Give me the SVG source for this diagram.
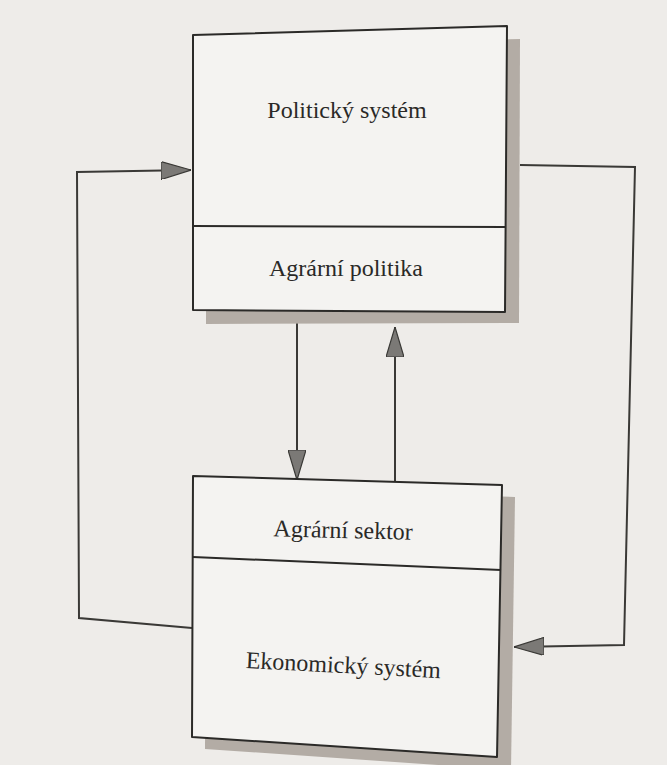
<svg xmlns="http://www.w3.org/2000/svg" width="667" height="765" viewBox="0 0 667 765">
  <defs>
    <style>
      .bg { fill: #eeece9; }
      .box { fill: #f4f3f1; stroke: #2b2a28; stroke-width: 2; stroke-linejoin: round; }
      .shadow { fill: #b3aca5; }
      .div { fill: none; stroke: #2b2a28; stroke-width: 2; }
      .conn { fill: none; stroke: #3a3936; stroke-width: 2; stroke-linejoin: miter; }
      .lbl { font-family: "Liberation Serif", "Times New Roman", serif; font-size: 24px; fill: #2a2927; text-anchor: middle; }
    </style>
    <marker id="arrow" viewBox="0 0 30 18" refX="30" refY="9" markerWidth="30" markerHeight="18" markerUnits="userSpaceOnUse" orient="auto">
      <path d="M0,0 L30,9 L0,18 z" fill="#7b7976" stroke="#3a3936" stroke-width="1.2"/>
    </marker>
  </defs>

  <rect class="bg" x="0" y="0" width="667" height="765"/>

  <g id="connectors">
    <path class="conn" d="M192,628 L79,618 L77,172 L191,170" marker-end="url(#arrow)"/>
    <path class="conn" d="M520,165 L635,167 L624,645 L514,647" marker-end="url(#arrow)"/>
    <path class="conn" d="M297,323 L297,480" marker-end="url(#arrow)"/>
    <path class="conn" d="M395,483 L395,327" marker-end="url(#arrow)"/>
  </g>

  <g id="politicky-system">
    <polygon class="shadow" points="206,48 520,39 519,323 206,324"/>
    <polygon class="box" points="193,35 507,26 505,312 193,310"/>
    <path class="div" d="M193,226 L505,227"/>
    <text class="lbl" x="347" y="118">Politický systém</text>
    <text class="lbl" x="346" y="276">Agrární politika</text>
  </g>

  <g id="ekonomicky-system">
    <polygon class="shadow" points="206,488 515,497 511,770 205,749"/>
    <polygon class="box" points="193,476 502,485 497,757 192,737"/>
    <path class="div" d="M193,557 L501,570"/>
    <text class="lbl" x="343" y="538" transform="rotate(1.5 343 538)">Agrární sektor</text>
    <text class="lbl" x="343" y="673" transform="rotate(3 343 673)">Ekonomický systém</text>
  </g>
</svg>
